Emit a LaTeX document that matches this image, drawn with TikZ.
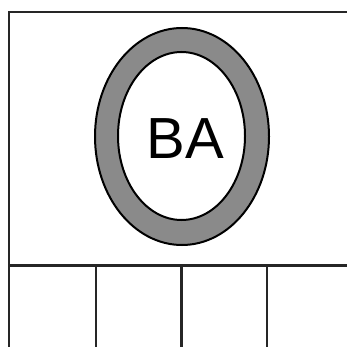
\documentclass[tikz,border=0pt]{standalone}
\usepackage{fontspec}
\setmainfont{Liberation Sans}
\begin{document}
\begin{tikzpicture}[x=1pt,y=-1pt,
  frame/.style={draw=black!85,line width=2.6pt},
  ring/.style={draw=black,line width=2pt,fill=black!46},
  hole/.style={draw=black,line width=2pt,fill=white}]
\useasboundingbox (0,0) rectangle (346,347);
\fill[white] (0,0) rectangle (346,347);
% outer frame (extends beyond picture edges)
\draw[frame] (360,12) -- (9,12) -- (9,360);
\draw[frame] (9,265.5) -- (360,265.5);
\draw[frame] (96,265.5) -- (96,360);
\draw[frame] (181.5,265.5) -- (181.5,360);
\draw[frame] (267,265.5) -- (267,360);
% ring
\draw[ring] (182,136.5) ellipse [x radius=87, y radius=108.5];
\draw[hole] (181.5,136) ellipse [x radius=63.5, y radius=84];
\node[font=\fontsize{58}{60}\selectfont,inner sep=0pt] (ba) at (185.5,139) {BA};
\end{tikzpicture}
\end{document}
